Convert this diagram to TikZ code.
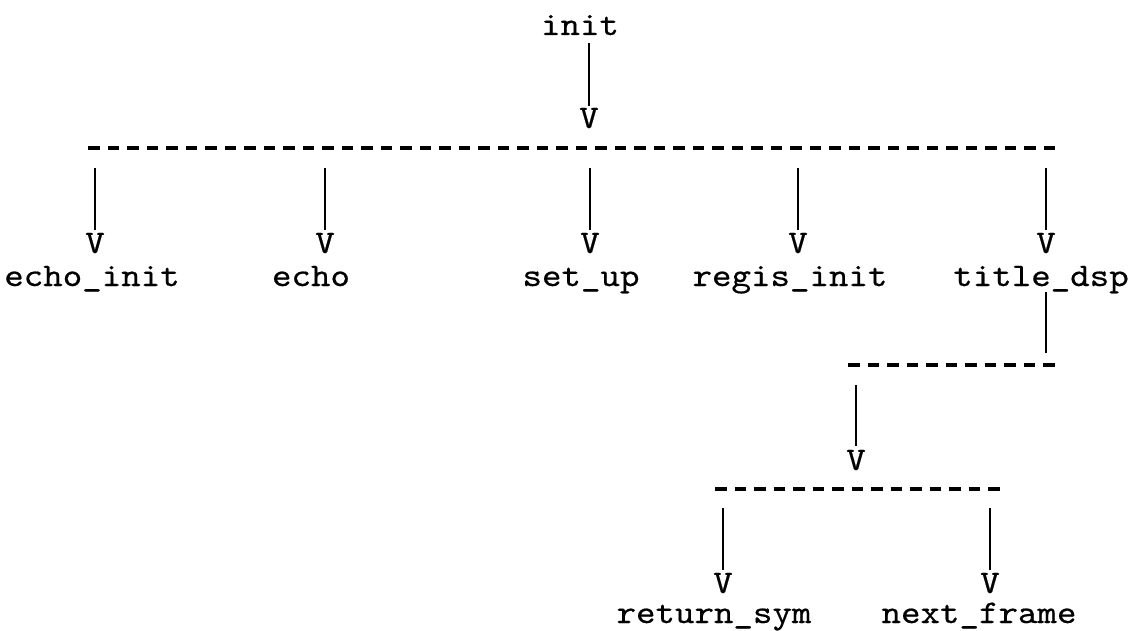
\documentclass[tikz,border=0pt]{standalone}
\usepackage{fontspec}
% typewriter face, widened to a 19.5pt character pitch
\newfontfamily\tw{lmmono10-regular.otf}[FakeStretch=1.125,FakeBold=0.5]
\begin{document}
\begin{tikzpicture}[x=1pt,y=1pt,
  lbl/.style={font=\tw\fontsize{33}{33}\selectfont, inner sep=0pt, anchor=base},
  tip/.style={lbl},
  wire/.style={line width=2pt},
  bar/.style={line width=3.2pt, dash pattern=on 11.5pt off 8pt}]
\useasboundingbox (0,0) rectangle (1137,-631);

% routine names
\node[lbl] (init)  at (580,-35)  {init};
\node[lbl] (echoi) at (92,-286)  {echo\_init};
\node[lbl] (echo)  at (311,-286) {echo};
\node[lbl] (setup) at (581,-286) {set\_up};
\node[lbl] (regis) at (790,-286) {regis\_init};
\node[lbl] (tdsp)  at (1041,-286) {title\_dsp};
\node[lbl] (rsym)  at (714,-623) {return\_sym};
\node[lbl] (nfrm)  at (979,-623) {next\_frame};

% typed arrow heads
\node[tip] (v0) at (589,-128) {V};
\node[tip] (v1) at (95,-253)  {V};
\node[tip] (v2) at (325,-253) {V};
\node[tip] (v3) at (590,-253) {V};
\node[tip] (v4) at (798,-253) {V};
\node[tip] (v5) at (1046,-253) {V};
\node[tip] (v6) at (856,-470) {V};
\node[tip] (v7) at (723,-593) {V};
\node[tip] (v8) at (990,-593) {V};

% hyphen rules
\coordinate (b1w) at (88,-148);  \coordinate (b1e) at (1055,-148);
\coordinate (b2w) at (848,-365); \coordinate (b2e) at (1055,-365);
\coordinate (b3w) at (715,-489); \coordinate (b3e) at (1000,-489);
\draw[bar] (b1w) -- (b1e);
\draw[bar] (b2w) -- (b2e);
\draw[bar] (b3w) -- (b3e);

% vertical strokes
\draw[wire] ([yshift=-8pt]v0 |- init.base) -- ([yshift=2pt]v0.north);
\foreach \v in {v1,v2,v3,v4,v5}
  \draw[wire] ([yshift=-20pt]\v |- b1w) -- ([yshift=3pt]\v.north);
\draw[wire] ([yshift=-6pt]v5 |- tdsp.base) -- ([yshift=12pt]v5 |- b2e);
\draw[wire] ([yshift=-20pt]v6 |- b2w) -- ([yshift=4pt]v6.north);
\foreach \v in {v7,v8}
  \draw[wire] ([yshift=-19pt]\v |- b3w) -- ([yshift=3pt]\v.north);
\end{tikzpicture}
\end{document}
